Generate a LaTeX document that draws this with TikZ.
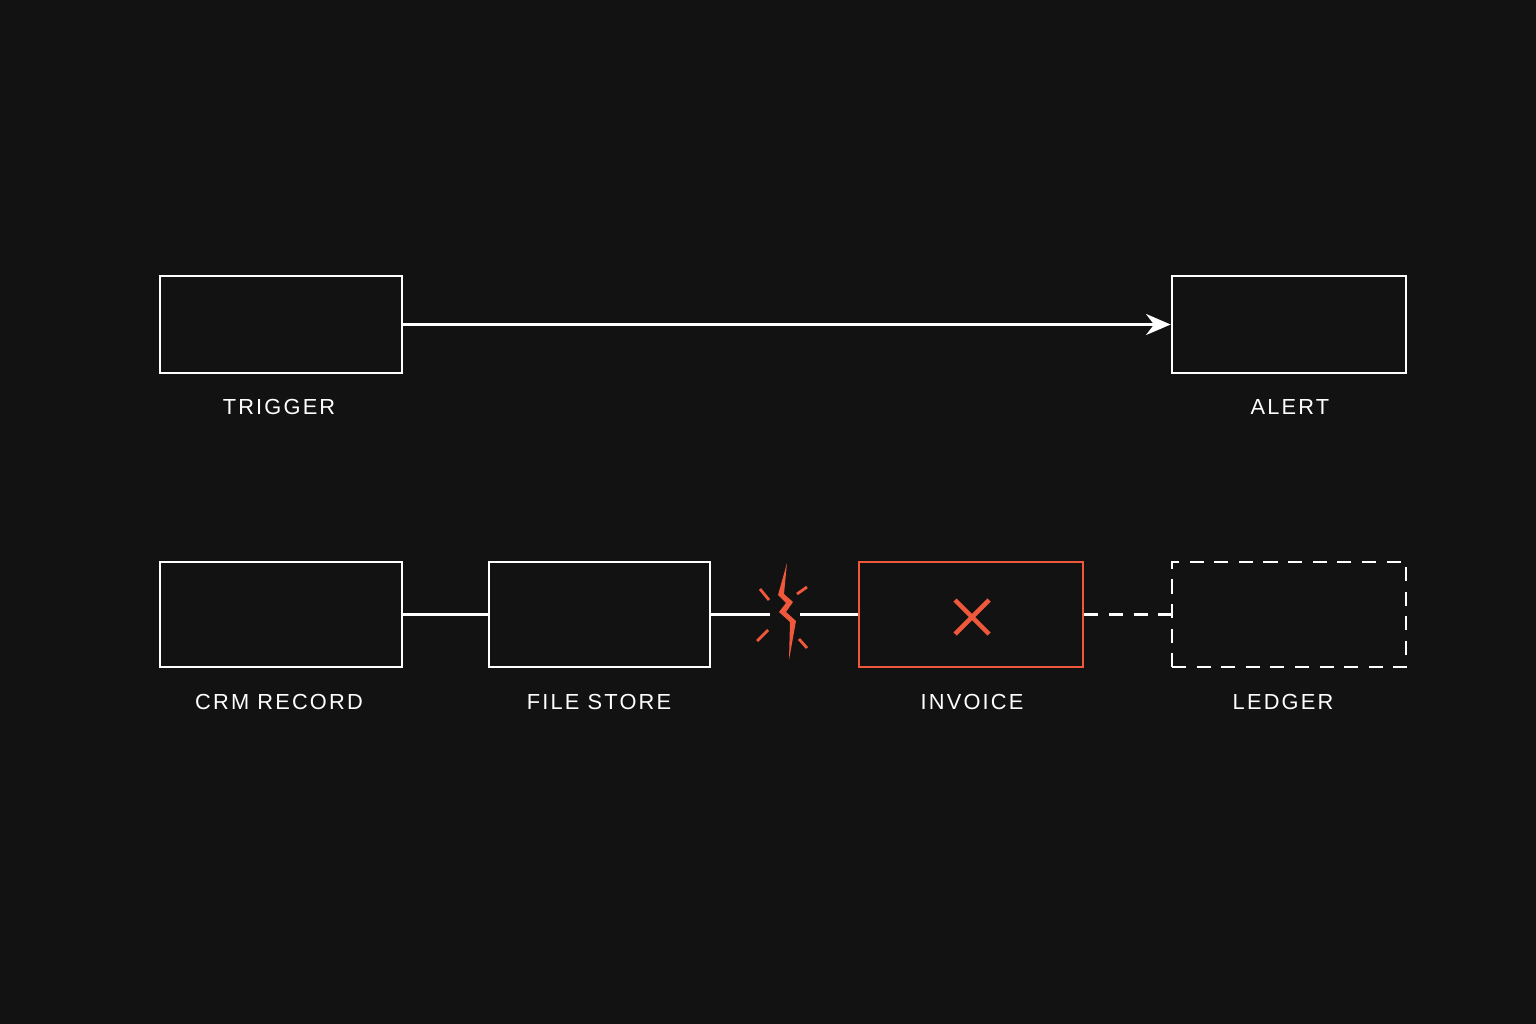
\documentclass[tikz,border=0pt]{standalone}
\usepackage{fontspec}
\setmainfont{Liberation Sans}[LetterSpace=10]
\usetikzlibrary{positioning,arrows.meta}
\definecolor{bg}{HTML}{121212}
\definecolor{fail}{HTML}{F0583C}
\tikzset{
  box/.style={draw=white, line width=0.75pt, minimum height=0.97cm, inner sep=0pt},
  lbl/.style={text=white, font=\fontsize{6.2}{7}\selectfont},
  link/.style={white, line width=0.6pt},
}
\begin{document}
\begin{tikzpicture}[x=0.01cm,y=-0.01cm]
\fill[bg] (0,0) rectangle (1536,1024);
\useasboundingbox (0,0) rectangle (1536,1024);

% top row
\node[box, minimum width=2.42cm] (trigger) at (281,324.5) {};
\node[box, minimum width=2.34cm] (alert) at (1289,324.5) {};
\node[lbl] (tlbl) at (279,407) {TRIGGER};
\node[lbl] (albl) at (1290,407) {ALERT};
\draw[link, -{Stealth[length=7pt,width=6pt]}] (trigger) -- (alert);

% bottom row
\node[box, minimum width=2.42cm, minimum height=1.05cm] (crm) at (281,614.5) {};
\node[box, minimum width=2.21cm, minimum height=1.05cm] (files) at (599.5,614.5) {};
\node[box, draw=fail, minimum width=2.24cm, minimum height=1.05cm] (invoice) at (971,614.5) {};
\node[box, dash pattern=on 4pt off 3pt, minimum width=2.34cm, minimum height=1.05cm] (ledger) at (1289,614.5) {};
\node[lbl] at (279,702) {CRM RECORD};
\node[lbl] at (599,702) {FILE STORE};
\node[lbl] at (972,702) {INVOICE};
\node[lbl] at (1283,702) {LEDGER};

\draw[link] (crm) -- (files);
\coordinate (brkL) at (770,614.5);
\coordinate (brkR) at (800,614.5);
\draw[link] (files.east) -- (brkL);
\draw[link] (brkR) -- (invoice.west);
\draw[link, dash pattern=on 4pt off 3pt] (invoice) -- (ledger);

% break
\fill[fail] (787,563) -- (778,595) -- (786,603) -- (779,612) -- (790,622) -- (789,660)
  -- (796,621) -- (786,612) -- (793,602) -- (784,594) -- cycle;
\draw[fail, line width=0.8pt] (760,589) -- (769,600) (797,594) -- (807,587)
  (757,641) -- (768,630) (799,639) -- (807,648);

% cross
\draw[fail, line width=1.3pt] (955,600) -- (989,634) (989,600) -- (955,634);
\end{tikzpicture}
\end{document}
